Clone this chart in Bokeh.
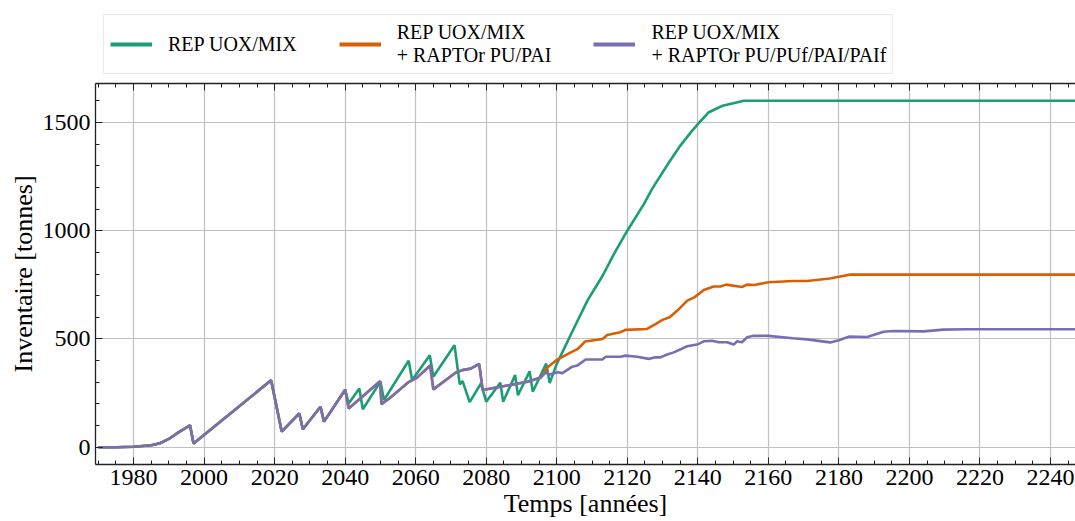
from bokeh.plotting import figure
from bokeh.layouts import column
from bokeh.models import (Range1d, LinearAxis, SingleIntervalTicker, Legend, LegendItem,
                          CustomJSTickFormatter)
from bokeh.embed import file_html
from bokeh.resources import INLINE

# ---- data ----
years_common = [1970, 1975, 1980, 1985, 1987.5, 1990, 1992.5, 1996, 1997, 2019, 2022,
                2027, 2028, 2033, 2034, 2040]
inv_common = [0, 0, 2, 9, 18, 38, 66, 101, 17, 309, 72, 156, 83, 187, 118, 265]

years_uox_tail = [2041, 2044, 2045, 2050, 2051, 2058, 2059, 2064, 2065, 2071, 2072.5,
                  2073.3, 2075.3, 2078.5, 2080, 2084, 2084.8, 2088.2, 2089, 2092.3, 2093.2,
                  2097, 2098, 2100, 2105, 2108.7, 2113, 2116.2, 2120, 2124.7, 2127, 2131.8,
                  2135, 2138, 2140, 2143, 2147, 2151, 2153, 2250]
inv_uox_tail = [202, 271, 175, 303, 218, 399, 310, 425, 325, 471, 290, 305, 208, 294, 210,
                298, 210, 333, 240, 350, 256, 386, 296, 385, 554, 677, 792, 892, 1000, 1123,
                1192, 1315, 1392, 1454, 1492, 1546, 1577, 1592, 1600, 1600]

years_raptor_mid = [2041, 2049.9, 2050.3, 2052.5, 2058.1, 2060.3, 2064.1, 2065, 2071.3,
                    2073.2, 2075.6, 2078, 2079, 2084, 2091.7, 2095.5]
inv_raptor_mid = [179, 305, 199, 225, 302, 320, 377, 267, 344, 356, 363, 385, 264, 279, 302, 322]

years_pu_tail = [2097.4, 2100, 2104, 2106, 2108, 2113, 2114.3, 2118, 2119.5, 2125.6, 2128,
                 2130, 2132, 2134.2, 2137, 2139, 2141.7, 2144.5, 2146.4, 2148, 2152.5, 2154,
                 2156, 2160, 2167, 2171, 2177.4, 2180, 2183, 2250]
inv_pu_tail = [369, 403, 438, 454, 488, 500, 518, 531, 542, 546, 569, 588, 600, 631, 677,
               692, 726, 742, 742, 751, 740, 751, 749, 762, 768, 768, 779, 787, 797, 797]

years_puf_tail = [2096.9, 2097.8, 2100.2, 2101.6, 2104.4, 2105.8, 2108.2, 2112.9, 2113.9,
                  2118.1, 2119.5, 2122.8, 2126.1, 2128, 2129.4, 2131.3, 2133.2, 2137, 2139.8,
                  2141.7, 2144, 2145.9, 2148.3, 2150.2, 2151.1, 2152.5, 2154, 2155.8, 2160,
                  2167, 2171, 2177.5, 2180, 2183, 2188, 2192.7, 2195.5, 2204, 2209.7, 2216, 2250]
inv_puf_tail = [346, 335, 346, 342, 372, 377, 405, 405, 418, 418, 423, 418, 408, 415, 415,
                428, 438, 466, 474, 489, 492, 485, 485, 474, 489, 485, 508, 515, 514, 503,
                498, 484, 494, 511, 509, 533, 537, 535, 543, 545, 545]

series_labels = ["REP UOX/MIX",
                 "REP UOX/MIX\n+ RAPTOr PU/PAI",
                 "REP UOX/MIX\n+ RAPTOr PU/PUf/PAI/PAIf"]
series_colors = ["#1b9e77", "#d95f02", "#7570b3"]

x_ticks_interval = 20
y_ticks_interval = 500

# ---- assemble series ----
x_uox = years_common + years_uox_tail
y_uox = inv_common + inv_uox_tail
x_pu = years_common + years_raptor_mid + years_pu_tail
y_pu = inv_common + inv_raptor_mid + inv_pu_tail
x_puf = years_common + years_raptor_mid + years_puf_tail
y_puf = inv_common + inv_raptor_mid + inv_puf_tail

FONT = "Liberation Serif"
LINE_W = 2.6

# ---------------- main plot ----------------
p = figure(width=1075, height=446, output_backend="svg", toolbar_location=None,
           x_range=Range1d(1969.2, 2247.1), y_range=Range1d(-80, 1680),
           min_border_left=95, min_border_right=0, min_border_top=8, min_border_bottom=57,
           x_axis_location=None, y_axis_location=None)
p.outline_line_color = None
p.background_fill_color = "white"
p.border_fill_color = "white"

xt = SingleIntervalTicker(interval=x_ticks_interval, num_minor_ticks=4)
yt = SingleIntervalTicker(interval=y_ticks_interval, num_minor_ticks=5)


def style_axis(ax):
    ax.axis_line_color = "#222222"
    ax.axis_line_width = 1.3
    ax.major_tick_line_color = "#222222"
    ax.minor_tick_line_color = "#222222"
    ax.major_tick_in = 7
    ax.major_tick_out = 0
    ax.minor_tick_in = 4
    ax.minor_tick_out = 0
    ax.major_label_text_font = FONT
    ax.major_label_text_color = "black"
    ax.axis_label_text_font = FONT
    ax.axis_label_text_font_style = "normal"
    ax.axis_label_text_color = "black"


xb = LinearAxis(ticker=xt, axis_label="Temps [années]")
style_axis(xb)
xb.major_label_text_font_size = "24px"
xb.axis_label_text_font_size = "26px"
xb.major_label_standoff = 5
xb.axis_label_standoff = 1
p.add_layout(xb, "below")

xa = LinearAxis(ticker=xt, formatter=CustomJSTickFormatter(code="return ''"))
style_axis(xa)
xa.major_label_standoff = 0
p.add_layout(xa, "above")

yl = LinearAxis(ticker=yt, axis_label="Inventaire [tonnes]")
style_axis(yl)
yl.major_label_text_font_size = "24px"
yl.axis_label_text_font_size = "26px"
yl.major_label_standoff = 5
yl.axis_label_standoff = 2
p.add_layout(yl, "left")

p.xgrid.ticker = xt
p.ygrid.ticker = yt
for g in (p.xgrid, p.ygrid):
    g.grid_line_color = "#c0c0c0"
    g.grid_line_width = 1.2

p.line(x_uox, y_uox, line_color=series_colors[0], line_width=LINE_W)
p.line(x_pu, y_pu, line_color=series_colors[1], line_width=LINE_W)
p.line(x_puf, y_puf, line_color=series_colors[2], line_width=LINE_W)

# ---------------- legend strip above the plot ----------------
pl = figure(width=1075, height=75, output_backend="svg", toolbar_location=None,
            x_range=Range1d(0, 1), y_range=Range1d(0, 1),
            min_border=0, x_axis_location=None, y_axis_location=None)
pl.outline_line_color = None
pl.xgrid.visible = False
pl.ygrid.visible = False

nan = float("nan")
items = []
for lab, col in zip(series_labels, series_colors):
    r = pl.line(x=[nan, nan], y=[nan, nan], line_color=col, line_width=4)
    items.append(LegendItem(label=lab, renderers=[r]))

legend = Legend(items=items, orientation="horizontal", location=(8, 1),
                glyph_width=42, glyph_height=20, label_standoff=16, spacing=42,
                padding=6, margin=0,
                label_text_font=FONT, label_text_font_size="20px",
                label_text_line_height=1.0, label_text_color="black",
                border_line_color="#d6d6d6", border_line_width=1.2,
                background_fill_color="white", background_fill_alpha=1.0)
pl.add_layout(legend, "center")

layout = column(pl, p, spacing=0)
open("out.html", "w").write(file_html(layout, INLINE))
